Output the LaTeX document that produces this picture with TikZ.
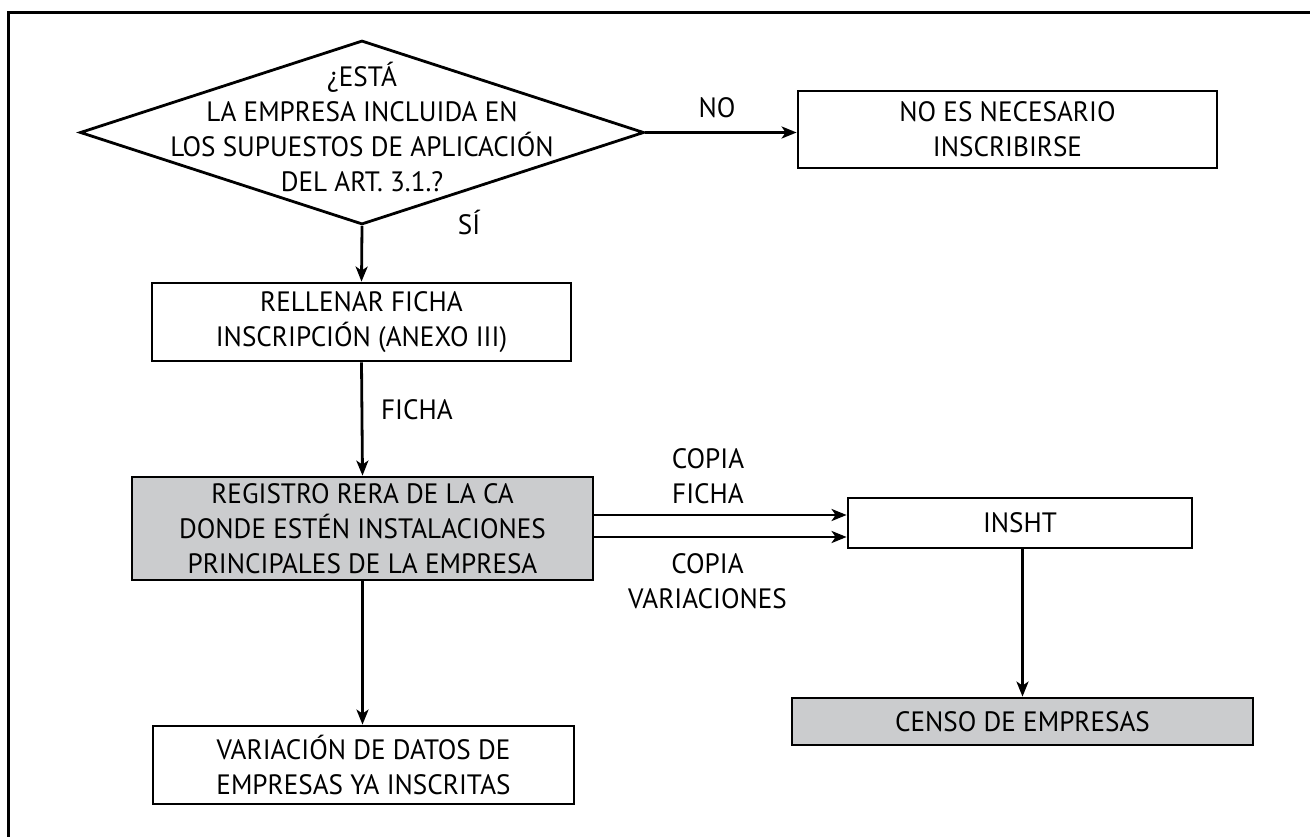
\documentclass[tikz,border=0pt]{standalone}
\usepackage{fontspec}
\setmainfont{PT Sans}[FakeStretch=0.97]
\usetikzlibrary{shapes.geometric,arrows.meta,calc}
\definecolor{boxgray}{HTML}{CBCCCE}
\begin{document}
\begin{tikzpicture}[x=1pt,y=-1pt,
  lbl/.style={font=\fontsize{28}{35}\selectfont,align=center,inner sep=0pt},
  box/.style={draw,line width=2.8pt,rectangle,inner sep=0pt,lbl},
  grey/.style={box,fill=boxgray},
  arr/.style={line width=2.8pt,-{Stealth[length=15pt,width=12pt,inset=4pt]}},
  frame/.style={line width=3pt}]
\useasboundingbox (0,0) rectangle (1310,837);
\coordinate (ftl) at (8,13);
\coordinate (ftr) at (1312,13);
\coordinate (fbl) at (8,839);
\draw[frame] (ftr) -- (ftl) -- (fbl);

\node[draw,line width=2.8pt,diamond,minimum width=564pt,minimum height=184pt,inner sep=0pt] (dia) at (362,132.5) {};
\node[lbl] (diatext) at ([yshift=6pt]dia.center) {¿ESTÁ\\LA EMPRESA INCLUIDA EN\\LOS SUPUESTOS DE APLICACIÓN\\DEL ART. 3.1.?};

\node[box,minimum width=419pt,minimum height=77pt] (nobox) at (1007.5,129.5) {NO ES NECESARIO\\INSCRIBIRSE};
\node[box,minimum width=419pt,minimum height=78pt] (rellenar) at (361.5,322) {RELLENAR FICHA\\INSCRIPCIÓN (ANEXO III)};
\node[grey,minimum width=461pt,minimum height=103pt] (registro) at (362.5,528.5) {REGISTRO RERA DE LA CA\\DONDE ESTÉN INSTALACIONES\\PRINCIPALES DE LA EMPRESA};
\node[box,minimum width=344pt,minimum height=50pt] (insht) at (1020,523) {INSHT};
\node[grey,minimum width=461pt,minimum height=47pt] (censo) at (1022.5,721.5) {CENSO DE EMPRESAS};
\node[box,minimum width=421pt,minimum height=78pt] (variacion) at (363.5,765) {VARIACIÓN DE DATOS DE\\EMPRESAS YA INSCRITAS};

\draw[arr] (dia.east) -- (dia.east -| nobox.west);
\draw[arr] (dia.south) -- (rellenar.north);
\draw[arr] (rellenar.south) -- (registro.north);
\draw[arr] ([yshift=13.5pt]registro.east) -- ([yshift=13.5pt]registro.east -| insht.west);
\draw[arr] ([yshift=-8.5pt]registro.east) -- ([yshift=-8.5pt]registro.east -| insht.west);
\draw[arr] (registro.south) -- (registro.south |- variacion.north);
\draw[arr] (censo.north |- insht.south) -- (censo.north);

\node[lbl] (lno) at (717,108) {NO};
\node[lbl] (lsi) at (469,222) {SÍ};
\node[lbl] (lficha) at (417,410) {FICHA};
\node[lbl] (lcopia1) at (708,476.5) {COPIA\\FICHA};
\node[lbl] (lcopia2) at (707.5,581.5) {COPIA\\VARIACIONES};
\end{tikzpicture}
\end{document}
